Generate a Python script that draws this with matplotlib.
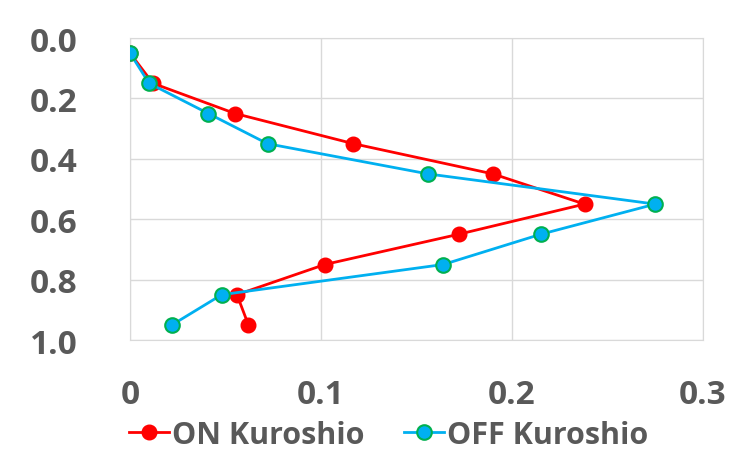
import matplotlib
matplotlib.use("Agg")
import matplotlib.pyplot as plt

depth = [0.05, 0.15, 0.25, 0.35, 0.45, 0.55, 0.65, 0.75, 0.85, 0.95]
on_kuroshio = [0.000, 0.012, 0.055, 0.117, 0.190, 0.238, 0.172, 0.102, 0.056, 0.062]
off_kuroshio = [0.000, 0.010, 0.041, 0.072, 0.156, 0.275, 0.215, 0.164, 0.048, 0.022]
x_ticks = [0, 0.1, 0.2, 0.3]
x_labels = ["0", "0.1", "0.2", "0.3"]
y_ticks = [0.0, 0.2, 0.4, 0.6, 0.8, 1.0]
y_labels = ["0.0", "0.2", "0.4", "0.6", "0.8", "1.0"]

plt.rcParams['font.family'] = ['Open Sans', 'DejaVu Sans']
TXT = '#595959'
GRID = '#D9D9D9'

fig = plt.figure(figsize=(7.33, 4.6), dpi=100)
ax = fig.add_axes([130/733, 1-341/460, (703-130)/733, (341-39)/460])

ax.plot(on_kuroshio, depth, color='#FF0000', lw=2, marker='o', ms=10.5,
        mfc='#FF0000', mec='#FF0000', label='ON Kuroshio', zorder=3)
ax.plot(off_kuroshio, depth, color='#00B0F0', lw=2, marker='o', ms=10.5,
        mfc='#00B0F0', mec='#00B050', mew=1.5, label='OFF Kuroshio', zorder=4)

ax.set_xlim(0, 0.3)
ax.set_ylim(1.0, 0.0)
ax.set_xticks(x_ticks)
ax.set_xticklabels(x_labels)
ax.set_yticks(y_ticks)
ax.set_yticklabels(y_labels)
ax.grid(True, color=GRID, lw=1)
ax.set_axisbelow(True)
for s in ax.spines.values():
    s.set_color(GRID)
ax.tick_params(length=0, labelsize=24, labelcolor=TXT, pad=0)
ax.tick_params(axis='y', pad=38)
ax.tick_params(axis='x', pad=27)
for lab in ax.get_xticklabels() + ax.get_yticklabels():
    lab.set_fontweight('bold')

fig.legend(loc='lower center', bbox_to_anchor=(0.53, -0.02), ncol=2, frameon=False,
           prop={'size': 22, 'weight': 'bold'}, labelcolor=TXT, handlelength=1.3,
           handletextpad=0.1, columnspacing=1.3, borderpad=0.1)

fig.savefig('out.png', dpi=100)
